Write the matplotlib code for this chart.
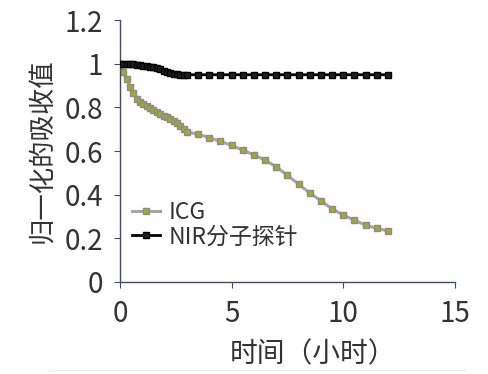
import matplotlib
matplotlib.use("Agg")
import matplotlib.pyplot as plt
from matplotlib.lines import Line2D

plt.rcParams['font.family'] = ['Noto Sans CJK SC', 'DejaVu Sans']
plt.rcParams['font.weight'] = 'light'

# 时间 (小时)
t = [0, 0.15, 0.3, 0.45, 0.6, 0.75, 0.9, 1.05, 1.2, 1.35, 1.5, 1.65, 1.8, 1.95,
     2.1, 2.25, 2.4, 2.55, 2.7, 2.85, 3.0,
     3.5, 4, 4.5, 5, 5.5, 6, 6.5, 7, 7.5, 8, 8.5, 9, 9.5, 10, 10.5, 11, 11.5, 12]

icg = [1.0, 0.963, 0.93, 0.895, 0.865, 0.84, 0.826, 0.816, 0.806, 0.797, 0.789,
       0.78, 0.772, 0.763, 0.756, 0.749, 0.74, 0.727, 0.715, 0.70, 0.688,
       0.677, 0.662, 0.644, 0.626, 0.604, 0.583, 0.558, 0.528, 0.489, 0.448,
       0.408, 0.372, 0.335, 0.307, 0.283, 0.261, 0.246, 0.234]

nir = [1.0, 1.0, 0.999, 0.998, 0.997, 0.996, 0.994, 0.992, 0.990, 0.987, 0.984,
       0.980, 0.975, 0.969, 0.964, 0.959, 0.955, 0.952, 0.951, 0.950, 0.950,
       0.95, 0.95, 0.95, 0.95, 0.95, 0.95, 0.95, 0.95, 0.95, 0.95,
       0.95, 0.95, 0.95, 0.95, 0.95, 0.95, 0.95, 0.95]

labels = ['ICG', 'NIR分子探针']

fig = plt.figure(figsize=(4.89, 3.74), dpi=100)
ax = fig.add_axes([0.2454, 0.246, 0.685, 0.70])

ax.plot(t, icg, color='#a6a6a6', lw=2.2, marker='s', ms=4.2,
        mfc='#a3a832', mec='#8c8c8c', mew=1.0, label=labels[0], zorder=2)
ax.plot(t, nir, color='black', lw=2.0, marker='s', ms=4.2,
        mfc='#202020', mec='black', mew=1.0, label=labels[1], zorder=3)

ax.set_xlim(0, 15)
ax.set_ylim(0, 1.2)
ax.set_xticks([0, 5, 10, 15])
ax.set_yticks([0, 0.2, 0.4, 0.6, 0.8, 1.0, 1.2])
ax.set_yticklabels(['0', '0.2', '0.4', '0.6', '0.8', '1', '1.2'])

spine_c = '#3e4c68'
for s in ['top', 'right']:
    ax.spines[s].set_visible(False)
for s in ['left', 'bottom']:
    ax.spines[s].set_color(spine_c)
    ax.spines[s].set_linewidth(1.0)
ax.tick_params(axis='both', direction='out', length=4, width=0.8,
               color=spine_c, labelsize=20, labelcolor='#333333')
ax.tick_params(axis='y', pad=8)
ax.tick_params(axis='x', pad=8)

ax.set_xlabel('时间（小时）', fontsize=20, color='#333333', labelpad=6)
ax.xaxis.set_label_coords(0.576, -0.22)
ax.set_ylabel('归一化的吸收值', fontsize=19, color='#333333', labelpad=6)

ax.legend(loc='lower left', bbox_to_anchor=(-0.025, 0.05), frameon=False,
          fontsize=16.5, handlelength=1.2, handletextpad=0.4, labelspacing=0.05,
          labelcolor='#333333')

fig.add_artist(Line2D([0.1, 0.95], [0.012, 0.012], color='#eeeeee', lw=1,
                      transform=fig.transFigure))

fig.savefig('out.png', dpi=100)
